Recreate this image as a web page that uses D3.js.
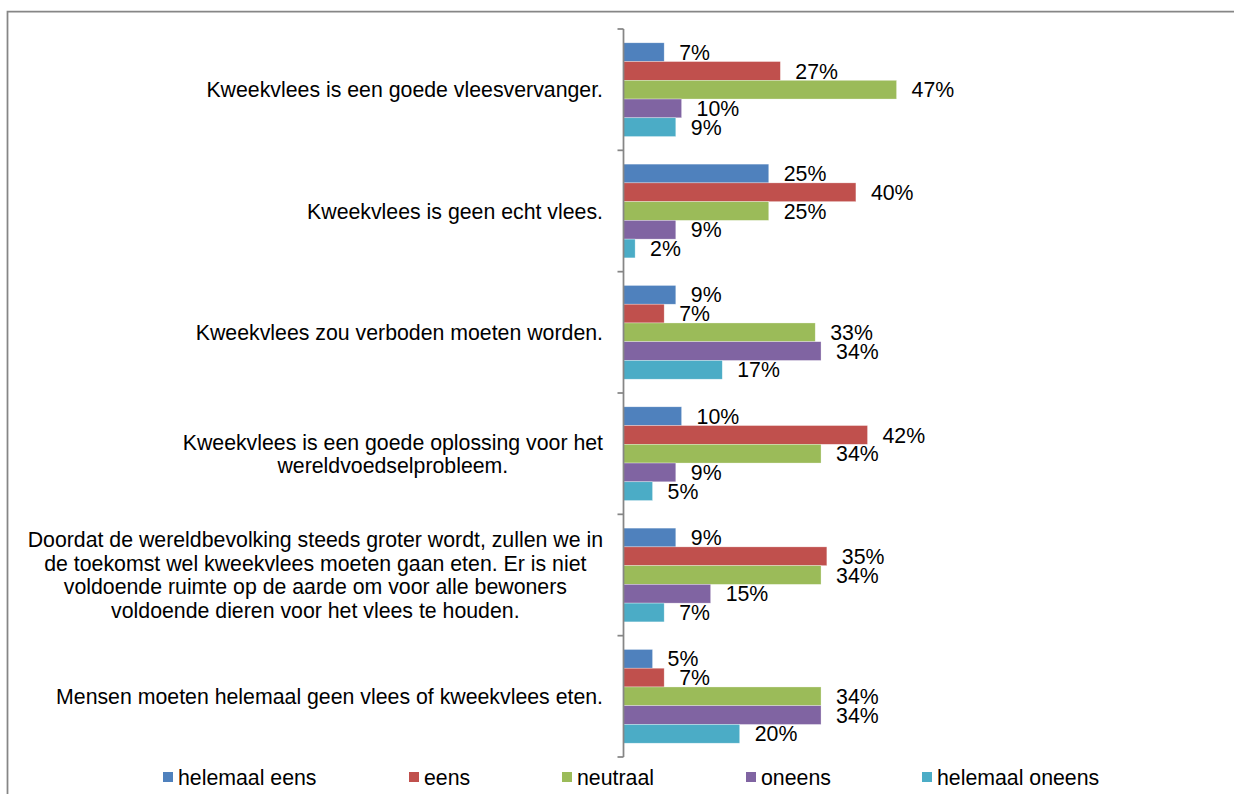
<!DOCTYPE html>
<html>
<head>
<meta charset="utf-8">
<script src="https://cdnjs.cloudflare.com/ajax/libs/d3/7.8.5/d3.min.js"></script>
<style>
  body { margin: 0; background: #fff; overflow: hidden; }
  svg { display: block; font-family: "Liberation Sans", Arial, sans-serif; }
</style>
</head>
<body>
<div id="chart"></div>
<script>
// categories (top to bottom), each label split in the lines shown in the chart
var categories = [
    ["Kweekvlees is een goede vleesvervanger."],
    ["Kweekvlees is geen echt vlees."],
    ["Kweekvlees zou verboden moeten worden."],
    ["Kweekvlees is een goede oplossing voor het", "wereldvoedselprobleem."],
    ["Doordat de wereldbevolking steeds groter wordt, zullen we in",
     "de toekomst wel kweekvlees moeten gaan eten. Er is niet",
     "voldoende ruimte op de aarde om voor alle bewoners",
     "voldoende dieren voor het vlees te houden."],
    ["Mensen moeten helemaal geen vlees of kweekvlees eten."]
];
var series = ["helemaal eens", "eens", "neutraal", "oneens", "helemaal oneens"];
var colors = ["#4F81BD", "#C0504D", "#9BBB59", "#8064A2", "#4BACC6"];

// percentages per series, one value per category
var helemaalEens   = [7, 25, 9, 10, 9, 5];
var eens           = [27, 40, 7, 42, 35, 7];
var neutraal       = [47, 25, 33, 34, 34, 34];
var oneens         = [10, 9, 34, 9, 15, 34];
var helemaalOneens = [9, 2, 17, 5, 7, 20];
var values = [helemaalEens, eens, neutraal, oneens, helemaalOneens];

var W = 1234, H = 794;
var fontSize = 21.3;
var axisX = 623.5;

var svg = d3.select("#chart").append("svg")
    .attr("width", W)
    .attr("height", H);

// kader rond de grafiek
svg.append("path")
    .attr("d", "M7.5," + H + "V11.5H" + W)
    .attr("fill", "none")
    .attr("stroke", "#868686")
    .attr("stroke-width", 1.75);

var y0 = d3.scaleBand()
    .domain(d3.range(categories.length))
    .range([29, 757]);

var y1 = d3.scaleBand()
    .domain(d3.range(series.length))
    .range([13.8, y0.bandwidth() - 13.8]);

var x = d3.scaleLinear()
    .domain([0, 50])
    .range([axisX, axisX + 290.5]);

// bars
var groups = svg.selectAll("g.cat")
    .data(categories)
    .enter().append("g")
    .attr("class", "cat")
    .attr("transform", function(d, i) { return "translate(0," + y0(i) + ")"; });

groups.each(function(d, ci) {
    var g = d3.select(this);
    var rows = series.map(function(s, si) { return {si: si, v: values[si][ci]}; });

    g.selectAll("rect")
        .data(rows)
        .enter().append("rect")
        .attr("x", x(0))
        .attr("y", function(r) { return y1(r.si); })
        .attr("width", function(r) { return x(r.v) - x(0); })
        .attr("height", y1.bandwidth())
        .attr("fill", function(r) { return colors[r.si]; })
        .attr("stroke", "#fff")
        .attr("stroke-opacity", 0.5)
        .attr("stroke-width", 0.6);

    g.selectAll("text.val")
        .data(rows)
        .enter().append("text")
        .attr("class", "val")
        .attr("x", function(r) { return x(r.v) + 15; })
        .attr("y", function(r) { return y1(r.si) + y1.bandwidth() / 2 + fontSize * 0.358; })
        .attr("font-size", fontSize)
        .attr("fill", "#000")
        .text(function(r) { return r.v + "%"; });
});

// y axis
var yAxis = svg.append("g")
    .attr("transform", "translate(" + axisX + ",0)")
    .call(d3.axisLeft(y0).tickSize(0).tickFormat(""));
yAxis.select(".domain").remove();
yAxis.append("line")
    .attr("y1", 29).attr("y2", 757)
    .attr("stroke", "#868686").attr("stroke-width", 1.75);
yAxis.selectAll("line.tk")
    .data(d3.range(categories.length + 1))
    .enter().append("line")
    .attr("class", "tk")
    .attr("x1", -6).attr("x2", 0)
    .attr("y1", function(i) { return 29 + i * y0.step(); })
    .attr("y2", function(i) { return 29 + i * y0.step(); })
    .attr("stroke", "#868686").attr("stroke-width", 1.75);

// category labels: block right-aligned, lines centered within block
var lineH = 23.5;
var labelRight = 603;
categories.forEach(function(lines, ci) {
    var cy = y0(ci) + y0.bandwidth() / 2;
    var g = svg.append("g").attr("class", "lab");
    var texts = lines.map(function(l, li) {
        return g.append("text")
            .attr("font-size", fontSize)
            .attr("fill", "#000")
            .attr("text-anchor", "middle")
            .attr("y", cy + (li - (lines.length - 1) / 2) * lineH + fontSize * 0.358)
            .text(l);
    });
    var maxW = d3.max(texts, function(t) { return t.node().getComputedTextLength(); });
    texts.forEach(function(t) { t.attr("x", labelRight - maxW / 2); });
});

// legend
var legendX = [163, 409, 562, 746, 922];
var legend = svg.selectAll("g.legend")
    .data(series)
    .enter().append("g")
    .attr("class", "legend")
    .attr("transform", function(d, i) { return "translate(" + legendX[i] + ",777)"; });

legend.append("rect")
    .attr("x", 0).attr("y", -5)
    .attr("width", 10).attr("height", 10)
    .attr("fill", function(d, i) { return colors[i]; });

legend.append("text")
    .attr("x", 15)
    .attr("y", fontSize * 0.358)
    .attr("font-size", fontSize)
    .attr("fill", "#000")
    .text(function(d) { return d; });
</script>
</body>
</html>
